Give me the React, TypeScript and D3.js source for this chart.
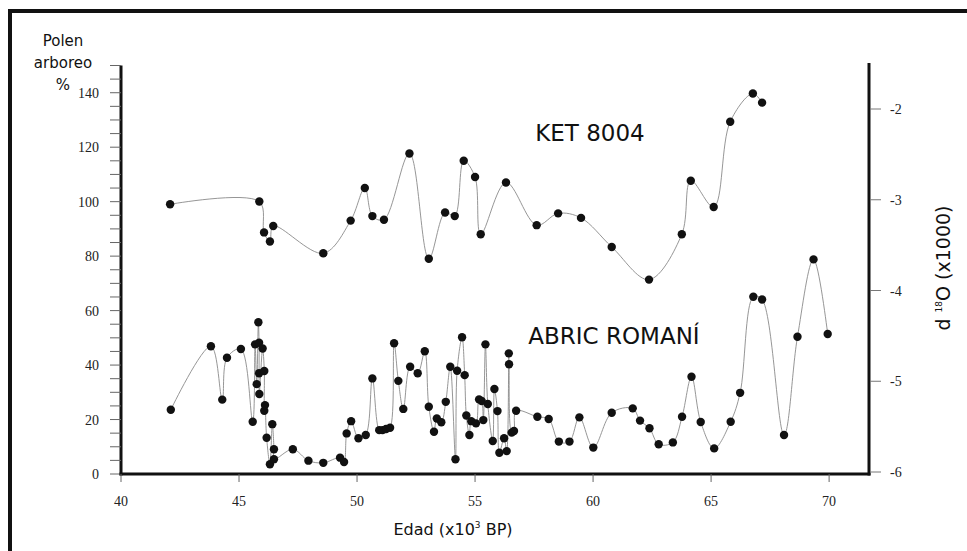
import React from "react";
import * as d3 from "d3";

const ketAge = [42.08, 45.86, 46.06, 46.31, 46.45, 48.57, 49.73, 50.33, 50.65, 51.14, 52.22, 53.04, 53.73, 54.14, 54.52, 55.0, 55.24, 56.31, 57.61, 58.52, 59.49, 60.79, 62.37, 63.76, 64.14, 65.11, 65.81, 66.77, 67.16];
const ketD18O = [-3.05, -3.02, -3.36, -3.46, -3.29, -3.59, -3.23, -2.87, -3.18, -3.22, -2.49, -3.65, -3.14, -3.18, -2.57, -2.75, -3.38, -2.81, -3.28, -3.15, -3.2, -3.52, -3.88, -3.38, -2.79, -3.08, -2.14, -1.83, -1.93];

const abricAge = [
  42.11, 43.81, 44.29, 44.49, 45.08, 45.58, 45.68, 45.75, 45.82, 45.85,
  45.85, 45.86, 46.0, 46.07, 46.07, 46.1, 46.17, 46.31, 46.41, 46.48,
  46.48, 47.28, 47.94, 48.57, 49.28, 49.45, 49.56, 49.75, 50.06, 50.37,
  50.65, 50.94, 51.08, 51.23, 51.4, 51.57, 51.75, 51.96, 52.25, 52.57,
  52.87, 53.04, 53.26, 53.38, 53.57, 53.76, 53.95, 54.17, 54.24, 54.45,
  54.56, 54.63, 54.76, 54.84, 55.04, 55.17, 55.28, 55.35, 55.44, 55.54,
  55.75, 55.82, 55.95, 56.03, 56.23, 56.34, 56.43, 56.44, 56.55, 56.65,
  56.74, 57.64, 58.12, 58.55, 59.0, 59.42, 60.01, 60.79, 61.68, 61.99,
  62.39, 62.78, 63.38, 63.77, 64.17, 64.56, 65.13, 65.83, 66.23, 66.79,
  67.16, 68.09, 68.66, 69.34, 69.94,
];
const abricPollen = [
  23.6, 46.9, 27.3, 42.7, 45.9, 19.2, 47.6, 33.0, 55.7, 48.2,
  37.0, 29.4, 46.1, 37.8, 23.2, 25.3, 13.3, 3.6, 18.3, 9.1,
  5.4, 9.1, 4.9, 4.1, 6.0, 4.4, 14.9, 19.4, 13.1, 14.3,
  35.1, 16.1, 16.1, 16.5, 17.0, 48.0, 34.2, 23.9, 39.4, 37.0,
  45.1, 24.7, 15.5, 20.4, 19.0, 26.5, 39.4, 5.4, 37.9, 50.2,
  36.3, 21.5, 14.3, 19.4, 18.6, 27.4, 26.8, 19.8, 47.6, 25.7,
  12.1, 31.2, 23.1, 7.8, 13.1, 8.4, 44.3, 40.3, 15.2, 15.8,
  23.2, 21.0, 20.2, 11.9, 11.9, 20.8, 9.7, 22.5, 24.1, 19.6,
  16.8, 10.9, 11.6, 21.0, 35.7, 19.1, 9.4, 19.2, 29.8, 65.1,
  64.1, 14.3, 50.4, 78.8, 51.4,
];

const xTicks = [40, 45, 50, 55, 60, 65, 70];
const leftLabelTicks = [0, 20, 40, 60, 80, 100, 120, 140];
const rightTicks = [-6, -5, -4, -3, -2];

const W = 967;
const H = 551;

export default function App() {
  const x = d3.scaleLinear().domain([40, 71.69]).range([121, 869]);
  const yL = d3.scaleLinear().domain([0, 150]).range([474, 65.5]);
  const yR = d3.scaleLinear().domain([-6, -2]).range([472, 109]);

  const ket = ketAge.map((a, i) => [x(a), yR(ketD18O[i])] as [number, number]);
  const abric = abricAge.map((a, i) => [x(a), yL(abricPollen[i])] as [number, number]);
  const line = d3.line().curve(d3.curveCatmullRom.alpha(0.5));

  const minorL = d3.range(0, 151, 5);
  const serif = "'Liberation Serif', 'Times New Roman', serif";
  const sans = "'DejaVu Sans', Verdana, sans-serif";

  return (
    <svg width={W} height={H} style={{ position: "absolute", left: 0, top: 0, background: "#fff" }} fontFamily={sans}>
      <rect x={0} y={0} width={W} height={H} fill="#fff" />
      {/* frame */}
      <line x1={8} y1={11} x2={W} y2={11} stroke="#111" strokeWidth={4} />
      <line x1={10} y1={9} x2={10} y2={H} stroke="#111" strokeWidth={4} />

      {/* lines */}
      <path d={line(ket) || ""} fill="none" stroke="#8a8a8a" strokeWidth={0.9} />
      <path d={line(abric) || ""} fill="none" stroke="#8a8a8a" strokeWidth={0.9} />
      {ket.map((p, i) => (
        <circle key={"k" + i} cx={p[0]} cy={p[1]} r={4.2} fill="#111" />
      ))}
      {abric.map((p, i) => (
        <circle key={"a" + i} cx={p[0]} cy={p[1]} r={4.2} fill="#111" />
      ))}

      {/* left axis */}
      <line x1={121} y1={yL(150)} x2={121} y2={475.5} stroke="#111" strokeWidth={3} />
      {minorL.map((v) => (
        <line key={"lt" + v} x1={110} x2={121} y1={yL(v)} y2={yL(v)} stroke="#666" strokeWidth={1} />
      ))}
      {leftLabelTicks.map((v) => (
        <text key={"ll" + v} x={99} y={yL(v) + 5} textAnchor="end" fontFamily={serif} fontSize={14} fill="#222">
          {v}
        </text>
      ))}

      {/* bottom axis */}
      <line x1={119.5} y1={474} x2={870.5} y2={474} stroke="#111" strokeWidth={3} />
      {xTicks.map((v) => (
        <g key={"xt" + v}>
          <line x1={x(v)} x2={x(v)} y1={474} y2={482} stroke="#666" strokeWidth={1} />
          <text x={x(v)} y={506} textAnchor="middle" fontFamily={serif} fontSize={14} fill="#222">
            {v}
          </text>
        </g>
      ))}

      {/* right axis */}
      <line x1={869} y1={63} x2={869} y2={475.5} stroke="#111" strokeWidth={3} />
      {rightTicks.map((v) => (
        <g key={"rt" + v}>
          <line x1={870} x2={881} y1={yR(v)} y2={yR(v)} stroke="#777" strokeWidth={1} />
          <text x={890} y={yR(v) + 5} textAnchor="start" fontFamily={serif} fontSize={14} fill="#222">
            {String(v).replace("-", "-")}
          </text>
        </g>
      ))}

      {/* titles */}
      <text x={63} y={46} textAnchor="middle" fontSize={15} fill="#111">Polen</text>
      <text x={63} y={68} textAnchor="middle" fontSize={15} fill="#111">arboreo</text>
      <text x={63} y={90} textAnchor="middle" fontSize={15} fill="#111">%</text>

      <text x={453} y={535} textAnchor="middle" fontSize={16} fill="#111">
        Edad (x10<tspan dy={-7} fontSize={9}>3</tspan><tspan dy={7}> BP)</tspan>
      </text>

      <text transform="translate(950,268) rotate(-90)" textAnchor="middle" fontSize={19} fill="#111">
        d <tspan dy={-8} fontSize={9}>18</tspan><tspan dy={8}>O (x1000)</tspan>
      </text>

      <text x={590} y={141} textAnchor="middle" fontSize={23} fill="#111">KET 8004</text>
      <text x={614} y={344} textAnchor="middle" fontSize={23} fill="#111">ABRIC ROMANÍ</text>
    </svg>
  );
}
